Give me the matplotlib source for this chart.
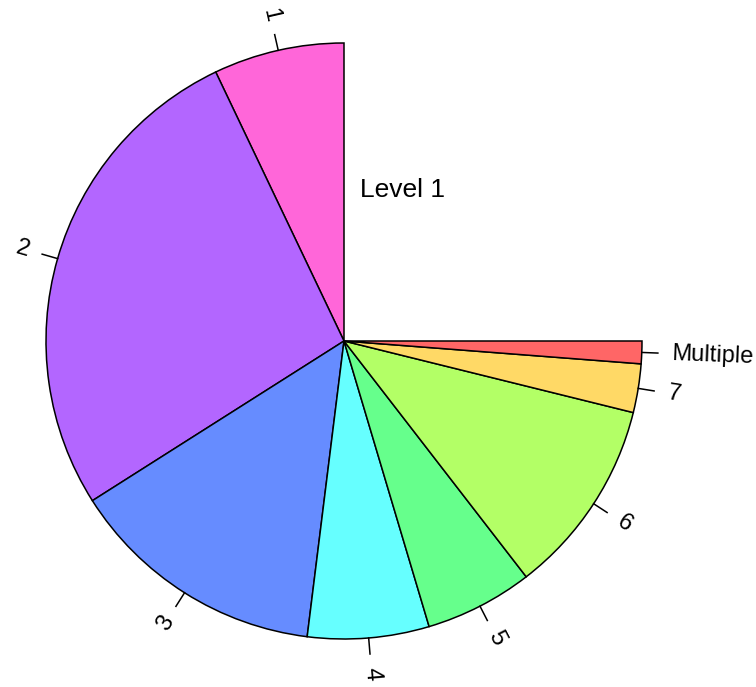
import numpy as np
import matplotlib
matplotlib.use("Agg")
import matplotlib.pyplot as plt
from matplotlib.patches import Wedge

plt.rcParams['font.family'] = ['Liberation Sans', 'DejaVu Sans']

labels = ["1", "2", "3", "4", "5", "6", "7", "Multiple"]
values = [25.5, 96.9, 50.5, 23.7, 21.1, 38.4, 9.5, 4.4]
colors = ["#FF66D9", "#B366FF", "#668CFF", "#66FFFF", "#66FF8C", "#B3FF66", "#FFD966", "#FF6666"]
title_text = "Level 1"

fig = plt.figure(figsize=(7.56, 6.87), dpi=100)
ax = fig.add_axes([0, 0, 1, 1])
ax.set_xlim(-344 / 298, (756 - 344) / 298)
ax.set_ylim(-(687 - 341) / 298, 341 / 298)
ax.set_aspect('equal')
ax.axis('off')

span = 270.0
total = sum(values)
start = 90.0
for lab, v, c in zip(labels, values, colors):
    ext = v / total * span
    t1, t2 = start, start + ext
    ax.add_patch(Wedge((0, 0), 1.0, t1, t2, facecolor=c, edgecolor='black', linewidth=1.1))
    mid = np.deg2rad((t1 + t2) / 2)
    ca, sa = np.cos(mid), np.sin(mid)
    ax.plot([ca, 1.054 * ca], [sa, 1.054 * sa], color='black', linewidth=1.1)
    deg = np.rad2deg(mid) % 360
    if 90 < deg < 270:
        rot = deg - 180
        ha = 'right'
    else:
        rot = deg if deg <= 90 else deg - 360
        ha = 'left'
    ax.text(1.10 * ca, 1.10 * sa, lab, rotation=rot, rotation_mode='anchor',
            ha=ha, va='center', fontsize=17)
    start = t2

ax.text(0.054, 0.507, title_text, ha='left', va='center', fontsize=19)

fig.savefig("out.png", dpi=100)
